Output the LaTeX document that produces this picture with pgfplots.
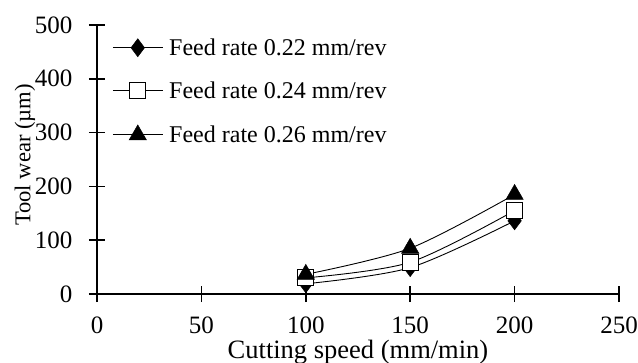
\documentclass[border=0pt]{standalone}
\usepackage{pgfplots}
\pgfplotsset{compat=1.18}
\usepackage{fontspec}
\setmainfont{Liberation Serif}
\begin{document}
\begin{tikzpicture}
\path[use as bounding box] (0,0) rectangle (638bp,363bp);
\begin{axis}[
  at={(97bp,69bp)}, anchor=south west,
  scale only axis, width=522bp, height=269bp,
  xmin=0, xmax=250, ymin=0, ymax=500,
  xtick={0,50,...,250}, ytick={0,100,...,500},
  axis lines=left,
  axis line style={-, line width=1.6bp, black},
  tick align=center, major tick length=16bp,
  tick style={line width=1.6bp, black},
  clip=false,
  /pgf/number format/assume math mode=true,
  ticklabel style={font=\fontsize{25bp}{30bp}\selectfont},
  xticklabel style={yshift=-11bp},
  yticklabel style={xshift=-13bp},
  xlabel={Cutting speed (mm/min)},
  ylabel={Tool wear (µm)},
  xlabel style={font=\fontsize{26.5bp}{30bp}\selectfont, at={(axis description cs:0.5,0)}, anchor=base, yshift=-64bp},
  ylabel style={font=\fontsize{22.6bp}{27bp}\selectfont, at={(axis description cs:-0.138,0.517)}, anchor=center},
  legend style={draw=none, fill=none, at={(axis description cs:0.029,0.95)}, anchor=north west,
    font=\fontsize{24bp}{28bp}\selectfont, inner sep=0pt, row sep=25bp, column sep=6bp,
    nodes={inner sep=0pt}},
  legend cell align=left,
  legend image code/.code={\draw[mark repeat=2,mark phase=2,#1] plot coordinates {(0bp,0bp) (25bp,0bp) (50bp,0bp)};},
  every axis plot/.append style={line width=0.9bp, black},
]
\addplot[smooth, mark=diamond*, mark size=9bp, mark options={solid, fill=black, line width=0.5bp}]
  coordinates {(100,19) (150,49) (200,136)};
\addlegendentry{Feed rate 0.22 mm/rev}
\addplot[smooth, mark=square*, mark size=8bp, mark options={solid, fill=white, line width=0.9bp}]
  coordinates {(100,30) (150,59) (200,155)};
\addlegendentry{Feed rate 0.24 mm/rev}
\addplot[smooth, mark=triangle*, mark size=10bp, mark options={solid, fill=black, line width=0.5bp}]
  coordinates {(100,36.5) (150,85) (200,185)};
\addlegendentry{Feed rate 0.26 mm/rev}
\end{axis}
\end{tikzpicture}
\end{document}
